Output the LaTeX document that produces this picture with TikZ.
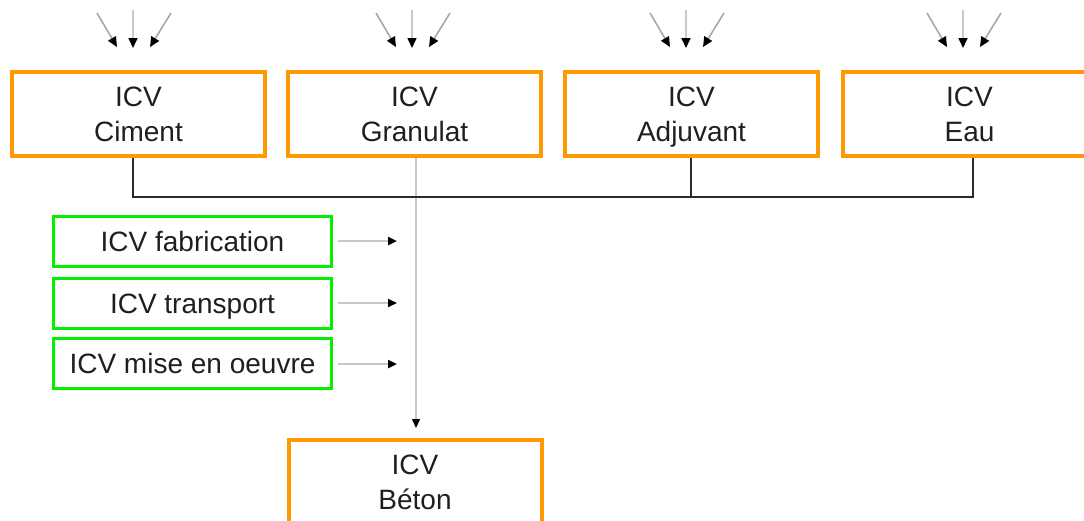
\documentclass[tikz,border=0pt]{standalone}
\usepackage{fontspec}
\setmainfont{Liberation Sans}
\usetikzlibrary{arrows.meta}
\definecolor{icvorange}{HTML}{FF9900}
\definecolor{icvgreen}{HTML}{00F000}
\definecolor{lightline}{HTML}{C8C8C8}
\definecolor{midline}{HTML}{A8A8A8}
\definecolor{darkline}{HTML}{2A2A2A}
\begin{document}
\begin{tikzpicture}[x=1pt,y=-1pt,
  matbox/.style={draw=icvorange, line width=4pt, minimum width=253pt, minimum height=84pt,
    align=center, inner sep=0pt, text=black!88, text depth=0pt, font=\fontsize{28}{35}\selectfont},
  procbox/.style={draw=icvgreen, line width=3pt, minimum width=278pt, minimum height=50pt,
    inner sep=0pt, text=black!88, text height=20pt, text depth=0pt, font=\fontsize{28}{34}\selectfont},
  feed/.style={draw=lightline, line width=1.6pt, -{Triangle[length=9pt,width=8pt,color=black]}},
  topfeed/.style={draw=midline, line width=1.6pt, -{Triangle[length=10pt,width=9pt,color=black]}},
  procfeed/.style={draw=lightline, line width=2.6pt, -{Triangle[length=9pt,width=8pt,color=black]}},
  link/.style={draw=darkline, line width=2pt},
]
\useasboundingbox (0,0) rectangle (1084,520);
\clip (0,0) rectangle (1084,520);

% material boxes
\node[matbox] (cim) at (138.5,114) {ICV\\Ciment};
\node[matbox] (gra) at (414.5,114) {ICV\\Granulat};
\node[matbox] (adj) at (691.5,114) {ICV\\Adjuvant};
\node[matbox] (eau) at (969.5,114) {ICV\\Eau};
\node[matbox] (bet) at (415,482) {ICV\\Béton};

% process boxes
\node[procbox] (fab) at (192.5,241) {ICV fabrication};
\node[procbox] (tra) at (192.5,303) {ICV transport};
\node[procbox] (mise) at (192.5,363) {ICV mise en oeuvre};

% incoming arrows above material boxes
\foreach \n/\m in {cim/133, gra/412, adj/686, eau/963}{
  \coordinate (\n-l0) at (\m-36,13);
  \coordinate (\n-l1) at (\m-16,47);
  \coordinate (\n-m0) at (\m,10);
  \coordinate (\n-m1) at (\m,48);
  \coordinate (\n-r0) at (\m+38,13);
  \coordinate (\n-r1) at (\m+17,47);
  \draw[topfeed] (\n-l0) -- (\n-l1);
  \draw[topfeed, draw=lightline] (\n-m0) -- (\n-m1);
  \draw[topfeed] (\n-r0) -- (\n-r1);
}

% main flow to beton
\draw[feed, line width=1.4pt] ([xshift=1.5pt]gra.south) -- ([xshift=1pt,yshift=10pt]bet.north);

% collector line
\draw[link] ([xshift=-5.5pt]cim.south) -- ++(0,39) -| ([xshift=3.5pt]eau.south);
\draw[link] ([xshift=-0.5pt]adj.south) -- ++(0,39);

% process arrows
\coordinate (fab-in) at (397,241);
\coordinate (tra-in) at (397,303);
\coordinate (mise-in) at (397,364);
\draw[procfeed] ([xshift=5pt]fab.east) -- (fab-in);
\draw[procfeed, line width=1.8pt] ([xshift=5pt]tra.east |- tra-in) -- (tra-in);
\draw[procfeed] ([xshift=5pt]mise.east |- mise-in) -- (mise-in);
\end{tikzpicture}
\end{document}
